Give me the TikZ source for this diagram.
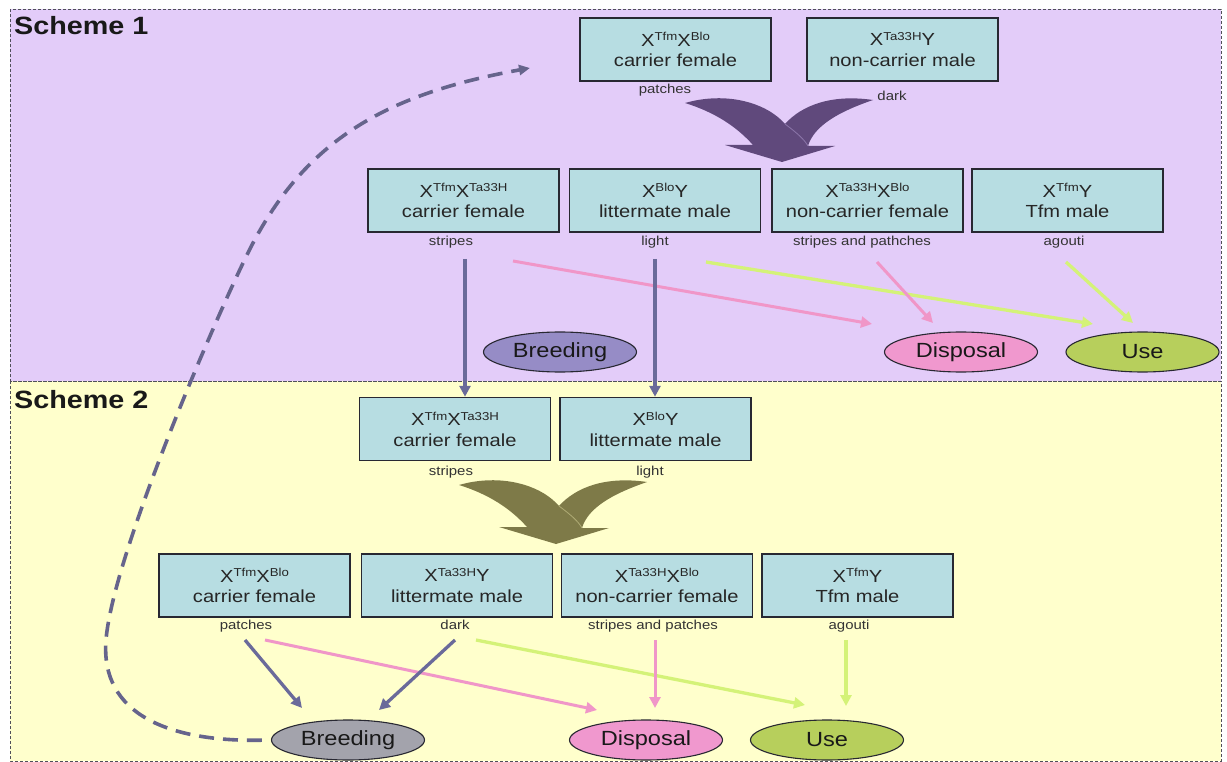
\documentclass[tikz,border=0pt]{standalone}
\usepackage{fontspec}
\setmainfont[FakeStretch=1.15]{Liberation Sans}
\usetikzlibrary{arrows.meta,shapes.geometric}
\definecolor{panelA}{RGB}{227,204,249}
\definecolor{panelB}{RGB}{255,255,204}
\definecolor{boxfill}{RGB}{183,221,226}
\definecolor{boxline}{RGB}{40,40,50}
\definecolor{mergeA}{RGB}{96,73,124}
\definecolor{mergeAl}{RGB}{140,118,170}
\definecolor{mergeB}{RGB}{126,122,72}
\definecolor{mergeBl}{RGB}{176,172,118}
\definecolor{breedA}{RGB}{150,140,198}
\definecolor{breedB}{RGB}{163,163,172}
\definecolor{dispfill}{RGB}{240,152,206}
\definecolor{usefill}{RGB}{183,207,92}
\definecolor{arrpurple}{RGB}{106,106,154}
\definecolor{arrpink}{RGB}{240,150,200}
\definecolor{arrgreen}{RGB}{212,242,120}
\definecolor{dashcol}{RGB}{102,100,140}
\definecolor{borderc}{RGB}{80,80,90}
\newcommand{\gs}[1]{\raisebox{5.5pt}{\fontsize{11.5}{12}\selectfont #1}}
\newcommand{\mergeshape}[4]{%
  \begin{scope}[shift={(#1,#2)}]
    \fill[#3] (-97,-59) .. controls (-55,-71) and (-15,-59) .. (3,-38)
      .. controls (20,-57) and (50,-68) .. (91,-62)
      .. controls (56,-50) and (32,-36) .. (26,-16)
      -- (53,-16) -- (0,0) -- (-57,-17) -- (-29,-17)
      .. controls (-46,-36) and (-68,-50) .. (-97,-59) -- cycle;
    \draw[#4, line width=0.8pt] (3,-38) .. controls (15,-29) and (22,-23) .. (26,-16);
  \end{scope}}
\tikzset{
  geno/.style={draw=boxline, line width=1.5pt, fill=boxfill, minimum width=191pt, minimum height=63pt,
    inner sep=0pt, align=center, text=black!85, font=\fontsize{17.5}{20.5}\selectfont},
  lbl/.style={anchor=base, inner sep=0pt, text=black!80, font=\fontsize{13}{15}\selectfont},
  fate/.style={ellipse, draw=boxline, line width=1.1pt, minimum width=153pt, minimum height=40pt,
    inner sep=0pt, text=black!90, font=\fontsize{20.5}{24}\selectfont},
  title/.style={anchor=base west, inner sep=0pt, text=black!90, font=\fontsize{25}{28}\selectfont\bfseries},
  conn/.style={line width=3.3pt, -{Triangle[length=11pt,width=11pt]}},
  pconn/.style={conn, arrpurple},
  kconn/.style={conn, arrpink, line width=3pt},
  gconn/.style={conn, arrgreen},
  panelline/.style={borderc, line width=0.8pt, dash pattern=on 3pt off 2pt},
}
\begin{document}
\begin{tikzpicture}[x=1pt,y=-1pt]
\useasboundingbox (0,0) rectangle (1227,762);
\fill[white] (0,0) rectangle (1227,762);
% panels
\fill[panelA] (10,9) rectangle (1221,381);
\fill[panelB] (10,381) rectangle (1221,761);
\draw[panelline] (10,9) rectangle (1221,381);
\draw[panelline] (10,381) rectangle (1221,761);
\node[title] (t1) at (14,35) {Scheme 1};
\node[title] (t2) at (14,408) {Scheme 2};

% Scheme 1
\node[geno] (A) at (675.5,49.5) {X\gs{Tfm}X\gs{Blo}\\carrier female};
\node[geno] (B) at (902.5,49.5) {X\gs{Ta33H}Y\\non-carrier male};
\node[lbl] (lA) at (665,94) {patches};
\node[lbl] (lB) at (892,101) {dark};
\mergeshape{782}{162}{mergeA}{mergeAl}
\node[geno] (C) at (463.5,200.5) {X\gs{Tfm}X\gs{Ta33H}\\carrier female};
\node[geno] (D) at (665,200.5) {X\gs{Blo}Y\\littermate male};
\node[geno] (E) at (867.5,200.5) {X\gs{Ta33H}X\gs{Blo}\\non-carrier female};
\node[geno] (F) at (1067.5,200.5) {X\gs{Tfm}Y\\Tfm male};
\node[lbl] (lC) at (451,246) {stripes};
\node[lbl] (lD) at (655,246) {light};
\node[lbl] (lE) at (862,246) {stripes and pathches};
\node[lbl] (lF) at (1064,246) {agouti};
\node[fate, fill=breedA] (br1) at (560,352) {Breeding};
\node[fate, fill=dispfill] (di1) at (961,352) {Disposal};
\node[fate, fill=usefill] (us1) at (1142.5,352) {Use};

% Scheme 2
\node[geno] (G) at (455,429) {X\gs{Tfm}X\gs{Ta33H}\\carrier female};
\node[geno] (H) at (655.5,429) {X\gs{Blo}Y\\littermate male};
\node[lbl] (lG) at (451,475) {stripes};
\node[lbl] (lH) at (650,475) {light};
\mergeshape{556}{544}{mergeB}{mergeBl}
\node[geno] (I) at (254.5,585.5) {X\gs{Tfm}X\gs{Blo}\\carrier female};
\node[geno] (J) at (457,585.5) {X\gs{Ta33H}Y\\littermate male};
\node[geno] (K) at (657,585.5) {X\gs{Ta33H}X\gs{Blo}\\non-carrier female};
\node[geno] (L) at (857.5,585.5) {X\gs{Tfm}Y\\Tfm male};
\node[lbl] (lI) at (246,629) {patches};
\node[lbl] (lJ) at (455,629) {dark};
\node[lbl] (lK) at (653,629) {stripes and patches};
\node[lbl] (lL) at (849,629) {agouti};
\node[fate, fill=breedB] (br2) at (348,740) {Breeding};
\node[fate, fill=dispfill] (di2) at (646,740) {Disposal};
\node[fate, fill=usefill] (us2) at (827,740) {Use};

% connector end points
\coordinate (s1) at (465,259);
\coordinate (s2) at (655,259);
\coordinate (p1s) at (513,261); \coordinate (p1e) at (872,324);
\coordinate (p2s) at (877,262); \coordinate (p2e) at (933,323);
\coordinate (g1s) at (706,262); \coordinate (g1e) at (1093,324);
\coordinate (g2s) at (1066,262); \coordinate (g2e) at (1133,323);
\coordinate (b1s) at (245,640); \coordinate (b1e) at (302,708);
\coordinate (b2s) at (455,640); \coordinate (b2e) at (379,710);
\coordinate (p3s) at (265,640); \coordinate (p3e) at (597,710);
\coordinate (p4s) at (655,640); \coordinate (p4e) at (655,708);
\coordinate (g3s) at (476,640); \coordinate (g3e) at (805,705);
\coordinate (g4s) at (846,640); \coordinate (g4e) at (846,706);
\coordinate (dashend) at (530,68);

% scheme 1 connectors
\draw[kconn] (p1s) -- (p1e);
\draw[gconn] (g1s) -- (g1e);
\draw[kconn] (p2s) -- (p2e);
\draw[gconn] (g2s) -- (g2e);
\draw[pconn] (s1) -- (s1 |- G.north);
\draw[pconn] (s2) -- (s2 |- H.north);

% scheme 2 connectors
\draw[kconn] (p3s) -- (p3e);
\draw[gconn] (g3s) -- (g3e);
\draw[pconn] (b1s) -- (b1e);
\draw[pconn] (b2s) -- (b2e);
\draw[kconn] (p4s) -- (p4e);
\draw[gconn] (g4s) -- (g4e);

% feedback dashed curve
\draw[dashcol, line width=3.6pt, dash pattern=on 15pt off 9pt, shorten <=9pt,
  -{Triangle[length=11pt,width=10pt]}]
  (br2.west) .. controls (170,742) and (100,715) .. (106,640)
  .. controls (113,552) and (225,296) .. (253,243)
  .. controls (310,135) and (393,93) .. (dashend);
\end{tikzpicture}
\end{document}
